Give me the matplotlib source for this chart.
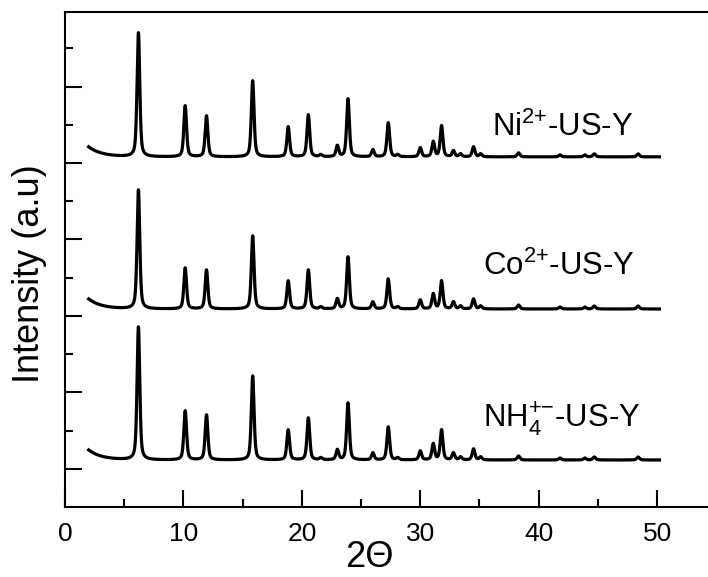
import numpy as np
import matplotlib
matplotlib.use('Agg')
import matplotlib.pyplot as plt
from matplotlib.ticker import MultipleLocator, FixedLocator

plt.rcParams['font.family'] = ['Liberation Sans', 'DejaVu Sans']
plt.rcParams['mathtext.fontset'] = 'custom'
plt.rcParams['mathtext.rm'] = 'Liberation Sans'
plt.rcParams['mathtext.it'] = 'Liberation Sans'

### Peak table (2theta in degrees, heights in a.u.)
peak_pos = [6.2, 10.15, 11.95, 15.85, 18.85, 20.55, 21.6, 23.0, 23.9, 26.0,
            27.3, 28.1, 30.0, 31.1, 31.8, 32.8, 33.4, 34.5, 35.1, 38.3,
            41.8, 43.9, 44.7, 48.4]
ni_heights = [124, 51, 41, 76, 30, 42, 2, 11, 58, 7,
              34, 2, 9, 15, 31, 6, 3, 10, 3, 4,
              2, 2, 3, 3]
co_heights = [119, 41, 39, 73, 28, 39, 2, 10, 52, 7,
              30, 2, 9, 15, 28, 7, 3, 10, 3, 4,
              2, 2, 3, 3]
nh4_heights = [133, 49, 45, 84, 30, 42, 2, 10, 57, 7,
               33, 2, 9, 16, 30, 7, 3, 11, 3, 4,
               2, 2, 3, 3]

# low angle background bump at the start of each scan (a.u.)
bump = {'Ni': 10, 'Co': 10, 'NH4': 10}
# vertical stacking of the patterns
offsets = {'Ni': 8.16, 'Co': 4.18, 'NH4': 0.23}
labels = {'Ni': r'Ni$^{\mathregular{2{+}}}$-US-Y',
          'Co': r'Co$^{\mathregular{2{+}}}$-US-Y',
          'NH4': r'NH$_{\mathregular{4}}^{\mathregular{{+}{-}}}$-US-Y'}
label_xy = {'Ni': (36.1, 8.70), 'Co': (35.3, 5.07), 'NH4': (35.3, 1.09)}

scan_start, scan_end = 2.0, 50.2
AU = 38.2  # a.u. per axis unit


def pattern(tt, heights, bump_amp, fwhm=0.27, eta=0.5):
    y = bump_amp * np.exp(-(tt - scan_start) / 1.1)
    for p, h in zip(peak_pos, heights):
        lor = 1.0 / (1.0 + ((tt - p) / (fwhm / 2)) ** 2)
        gau = np.exp(-np.log(2) * ((tt - p) / (fwhm / 2)) ** 2)
        y = y + h * (eta * lor + (1 - eta) * gau)
    return y / AU


def main():
    fig = plt.figure(figsize=(7.08, 5.77), dpi=100)
    ax = fig.add_axes([65 / 708, 1 - 507 / 577, 643 / 708, 495 / 577])

    tt = np.linspace(scan_start, scan_end, 4000)
    series = {'Ni': ni_heights, 'Co': co_heights, 'NH4': nh4_heights}
    for key, hts in series.items():
        ax.plot(tt, pattern(tt, hts, bump[key]) + offsets[key], color='black', lw=2.3)
        ax.text(label_xy[key][0], label_xy[key][1], labels[key], fontsize=22.4,
                ha='left', va='baseline')

    ax.set_xlim(0, 54.3)
    ax.set_ylim(-1, 11.95)

    ax.xaxis.set_major_locator(MultipleLocator(10))
    ax.xaxis.set_minor_locator(MultipleLocator(5))
    ax.yaxis.set_major_locator(FixedLocator([0, 2, 4, 6, 8, 10]))
    ax.yaxis.set_minor_locator(FixedLocator([1, 3, 5, 7, 9, 11]))
    ax.set_yticklabels([])

    ax.tick_params(which='both', direction='in', width=1.5, top=False, right=False)
    ax.tick_params(which='major', length=12, labelsize=19, pad=11)
    ax.tick_params(which='minor', length=6)

    for s in ['left', 'bottom', 'top']:
        ax.spines[s].set_linewidth(1.5)
    ax.spines['right'].set_visible(False)

    ax.set_xlabel('2Θ', fontsize=26)
    ax.set_ylabel('Intensity (a.u)', fontsize=26)
    ax.xaxis.set_label_coords(0.474, -0.0667)
    ax.yaxis.set_label_coords(-18 / 643, 0.471)

    fig.savefig('out.png', dpi=100)
    plt.close(fig)


if __name__ == '__main__':
    main()
